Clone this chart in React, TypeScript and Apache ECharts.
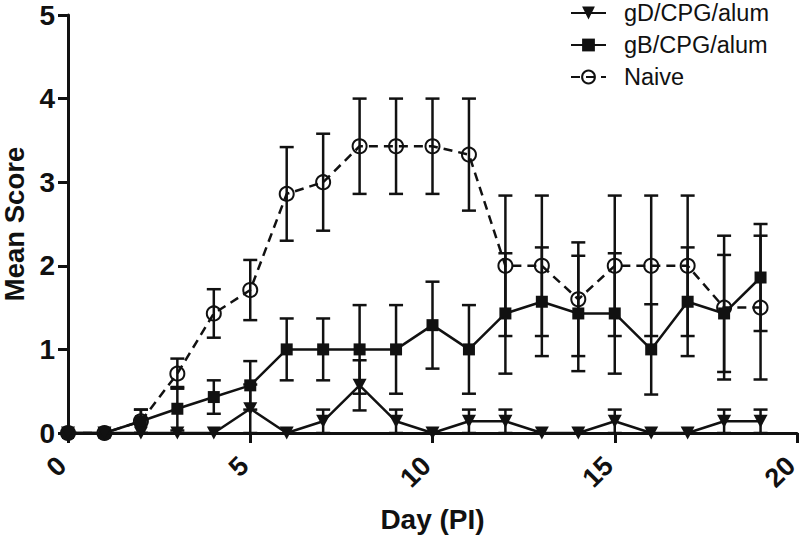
import React, { useEffect, useRef } from "react";
import * as echarts from "echarts";

const days = [0, 1, 2, 3, 4, 5, 6, 7, 8, 9, 10, 11, 12, 13, 14, 15, 16, 17, 18, 19];
const gDMean = [0, 0, 0, 0, 0, 0.29, 0, 0.14, 0.57, 0.14, 0, 0.14, 0.14, 0, 0, 0.14, 0, 0, 0.14, 0.14];
const gDErr = [0, 0, 0, 0, 0, 0.29, 0, 0.14, 0.3, 0.14, 0, 0.14, 0.14, 0, 0, 0.14, 0, 0, 0.14, 0.14];
const gBMean = [0, 0, 0.14, 0.29, 0.43, 0.57, 1, 1, 1, 1, 1.29, 1, 1.43, 1.57, 1.43, 1.43, 1, 1.57, 1.43, 1.86];
const gBErr = [0, 0, 0.14, 0.26, 0.2, 0.29, 0.37, 0.37, 0.53, 0.53, 0.52, 0.53, 0.72, 0.65, 0.69, 0.72, 0.54, 0.65, 0.7, 0.64];
const naiveMean = [0, 0, 0.14, 0.71, 1.43, 1.71, 2.86, 3, 3.43, 3.43, 3.43, 3.33, 2, 2, 1.6, 2, 2, 2, 1.5, 1.5];
const naiveErr = [0, 0, 0.14, 0.18, 0.29, 0.36, 0.56, 0.58, 0.57, 0.57, 0.57, 0.67, 0.84, 0.84, 0.68, 0.84, 0.84, 0.84, 0.86, 0.86];
const seriesNames = ["gD/CPG/alum", "gB/CPG/alum", "Naive"];
const xTicks = [0, 5, 10, 15, 20];
const yTicks = [0, 1, 2, 3, 4, 5];

const INK = "#111";
const FONT = "'Liberation Sans', Arial, sans-serif";

function pairs(mean: number[]) {
  return days.map((d, i) => [d, mean[i]]);
}
function errs(mean: number[], err: number[]) {
  return days
    .map((d, i) => [d, mean[i] - err[i], mean[i] + err[i], err[i]])
    .filter((r) => r[3] > 0);
}

function errorSeries(name: string, mean: number[], err: number[]) {
  return {
    type: "custom",
    name: name + " err",
    clip: false,
    z: 1,
    data: errs(mean, err),
    renderItem: (params: any, api: any) => {
      const x = api.value(0);
      const top = api.coord([x, api.value(2)]);
      const bot = api.coord([x, Math.max(0, api.value(1))]);
      const w = 7;
      const st = { stroke: INK, lineWidth: 2.5 };
      return {
        type: "group",
        children: [
          { type: "line", shape: { x1: top[0], y1: top[1], x2: bot[0], y2: bot[1] }, style: st },
          { type: "line", shape: { x1: top[0] - w, y1: top[1], x2: top[0] + w, y2: top[1] }, style: st },
          { type: "line", shape: { x1: bot[0] - w, y1: bot[1], x2: bot[0] + w, y2: bot[1] }, style: st },
        ],
      };
    },
  };
}

export default function App() {
  const ref = useRef<HTMLDivElement>(null);
  useEffect(() => {
    if (!ref.current) return;
    const chart = echarts.init(ref.current, undefined, { renderer: "svg" });
    chart.setOption({
      animation: false,
      backgroundColor: "#fff",
      grid: { left: 68, right: 3, top: 15, bottom: 107, containLabel: false, outerBoundsMode: "none" },
      legend: {
        data: seriesNames,
        orient: "vertical",
        left: 570,
        top: 1,
        padding: 0,
        itemWidth: 35,
        itemHeight: 16,
        itemGap: 8,
        textStyle: { fontFamily: FONT, fontSize: 23.5, color: INK, padding: [0, 0, 0, 13], lineHeight: 24 },
      },
      xAxis: {
        type: "value",
        min: xTicks[0],
        max: xTicks[xTicks.length - 1],
        interval: 5,
        name: "Day (PI)",
        nameLocation: "middle",
        nameGap: 72,
        nameTextStyle: { fontFamily: FONT, fontSize: 28, fontWeight: "bold", color: INK },
        axisLine: { lineStyle: { color: INK, width: 3 } },
        axisTick: { length: 10, lineStyle: { color: INK, width: 3 } },
        axisLabel: {
          rotate: 45,
          margin: 22,
          padding: [0, 9, 0, 0],
          lineHeight: 24,
          fontFamily: FONT,
          fontSize: 27,
          fontWeight: "bold",
          color: INK,
        },
        splitLine: { show: false },
      },
      yAxis: {
        type: "value",
        min: yTicks[0],
        max: yTicks[yTicks.length - 1],
        interval: 1,
        name: "Mean Score",
        nameLocation: "middle",
        nameGap: 40,
        nameTextStyle: { fontFamily: FONT, fontSize: 27.5, fontWeight: "bold", color: INK, lineHeight: 26 },
        axisLine: { show: true, lineStyle: { color: INK, width: 3 } },
        axisTick: { show: true, length: 10, lineStyle: { color: INK, width: 3 } },
        axisLabel: { margin: 13, fontFamily: FONT, fontSize: 28, fontWeight: "bold", color: INK },
        splitLine: { show: false },
      },
      series: [
        errorSeries(seriesNames[2], naiveMean, naiveErr),
        errorSeries(seriesNames[1], gBMean, gBErr),
        errorSeries(seriesNames[0], gDMean, gDErr),
        {
          type: "line",
          name: seriesNames[2],
          data: pairs(naiveMean),
          clip: false,
          z: 3,
          symbol: "circle",
          symbolSize: 14,
          itemStyle: { color: "rgba(255,255,255,0)", borderColor: INK, borderWidth: 2 },
          lineStyle: { color: INK, width: 2.5, type: [9, 6] },
        },
        {
          type: "line",
          name: seriesNames[1],
          data: pairs(gBMean),
          clip: false,
          z: 4,
          symbol: "rect",
          symbolSize: 12,
          itemStyle: { color: INK },
          lineStyle: { color: INK, width: 2.5 },
        },
        {
          type: "line",
          name: seriesNames[0],
          data: pairs(gDMean),
          clip: false,
          z: 5,
          symbol: "triangle",
          symbolRotate: 180,
          symbolSize: [14, 13],
          itemStyle: { color: INK },
          lineStyle: { color: INK, width: 2.5 },
        },
      ],
    });
    return () => chart.dispose();
  }, []);
  return <div ref={ref} style={{ width: 800, height: 540, position: "absolute", left: 0, top: 0 }} />;
}
